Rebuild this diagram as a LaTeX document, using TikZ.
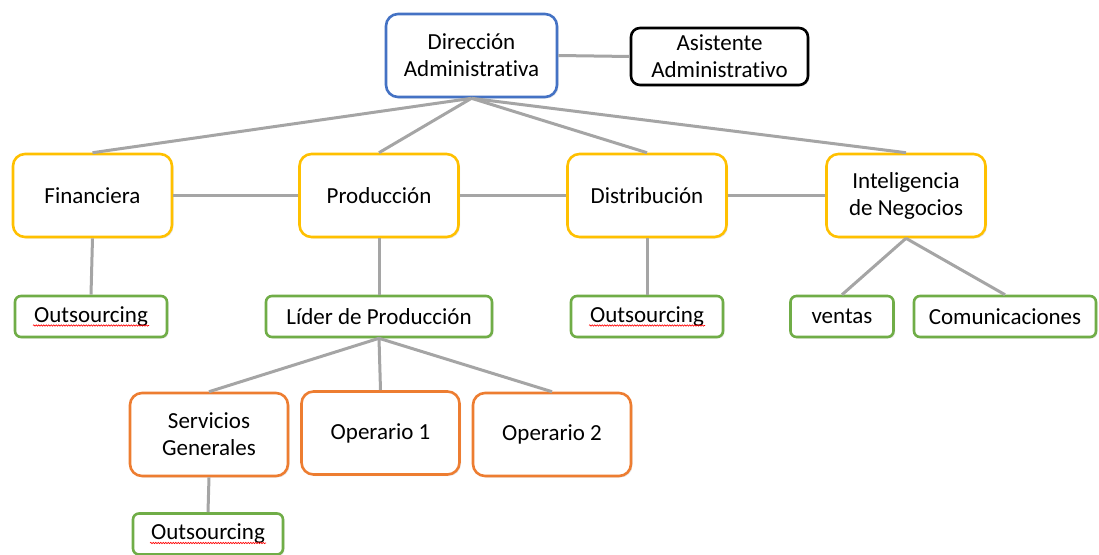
\documentclass[tikz,border=0pt]{standalone}
\usepackage{fontspec}
\setmainfont{Carlito}[Ligatures=NoCommon]
\usetikzlibrary{shadows,decorations.pathmorphing}
\definecolor{linkgray}{RGB}{165,165,165}
\definecolor{topblue}{RGB}{68,114,196}
\definecolor{areagold}{RGB}{255,192,0}
\definecolor{unitgreen}{RGB}{112,173,71}
\definecolor{stafforange}{RGB}{237,125,49}
\tikzset{
  box/.style={draw, fill=white, rounded corners=12pt, align=center, inner sep=2pt, line width=2.6pt,
    font=\fontsize{23}{27}\selectfont, drop shadow={opacity=0.18, shadow xshift=1.5pt, shadow yshift=-1.5pt}},
  head/.style={box, draw=topblue, minimum width=171pt, minimum height=83pt},
  aide/.style={box, draw=black, rounded corners=9pt, minimum width=177pt, minimum height=57pt},
  area/.style={box, draw=areagold, minimum width=159pt, minimum height=83pt},
  unit/.style={box, draw=unitgreen, rounded corners=6pt, minimum height=41pt},
  staff/.style={box, draw=stafforange, minimum width=158pt, minimum height=83pt},
  link/.style={draw=linkgray, line width=3pt},
  spell/.style={red, line width=0.6pt, decorate, decoration={snake, amplitude=0.7pt, segment length=2.5pt}},
}

\begin{document}
\begin{tikzpicture}[x=1pt, y=-1pt]
  \useasboundingbox (0,0) rectangle (1099,554);
  % direccion y asistente
  \node[head] (dir) at (471.5,55.5) {Dirección\\Administrativa};
  \node[aide] (asis) at (719.5,56.5) {Asistente\\Administrativo};
  % areas
  \node[area] (fin) at (92.5,195.5) {Financiera};
  \node[area] (prod) at (379,195.5) {Producción};
  \node[area] (dist) at (647,195.5) {Distribución};
  \node[area] (intel) at (906,195.5) {Inteligencia\\de Negocios};
  % unidades
  \node[unit, minimum width=152pt] (out1) at (91,316.5) {Outsourcing};
  \node[unit, minimum width=226pt] (lider) at (379,316.5) {Líder de Producción};
  \node[unit, minimum width=152pt] (out2) at (647,316.5) {Outsourcing};
  \node[unit, minimum width=103pt] (ventas) at (842,316.5) {ventas};
  \node[unit, minimum width=182pt] (comu) at (1005,316.5) {Comunicaciones};
  % personal de produccion
  \node[staff] (serv) at (209,434.5) {Servicios\\Generales};
  \node[staff] (op1) at (380.5,433) {Operario 1};
  \node[staff] (op2) at (552,434.5) {Operario 2};
  \node[unit, minimum width=150pt] (out3) at (208,534) {Outsourcing};

  \draw[link] (dir.east) -- (asis.west);
  \foreach \a in {fin,prod,dist,intel} { \draw[link] (dir.south) -- (\a.north); }
  \draw[link] (fin.east) -- (prod.west);
  \draw[link] (prod.east) -- (dist.west);
  \draw[link] (dist.east) -- (intel.west);
  \draw[link] (fin.south) -- (out1.north);
  \draw[link] (prod.south) -- (lider.north);
  \draw[link] (dist.south) -- (out2.north);
  \draw[link] (intel.south) -- (ventas.north);
  \draw[link] (intel.south) -- (comu.north);
  \foreach \s in {serv,op1,op2} { \draw[link] (lider.south) -- (\s.north); }
  \draw[link] (serv.south) -- (out3.north);
  % subrayado del corrector
  \foreach \o in {out1,out2,out3} {
    \draw[spell] ([shift={(-58,9)}]\o.center) -- ([shift={(58,9)}]\o.center);
  }
\end{tikzpicture}
\end{document}
